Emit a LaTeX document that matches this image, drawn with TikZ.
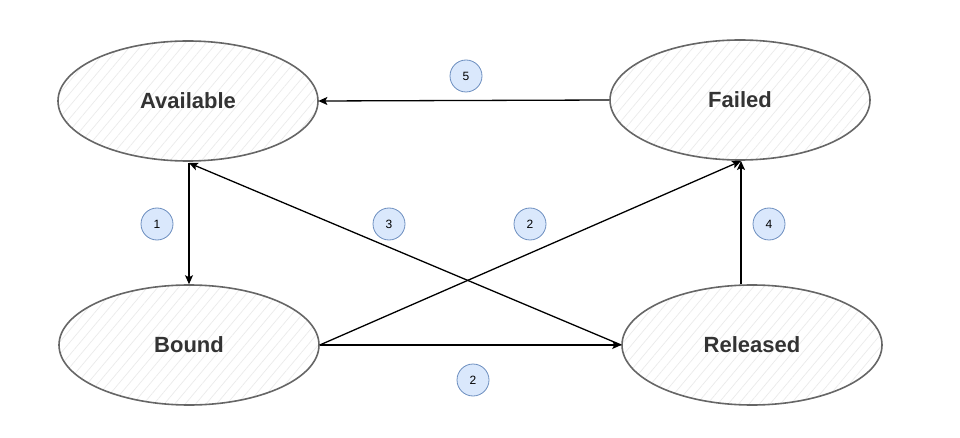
\documentclass[tikz,border=0pt]{standalone}
\usepackage{fontspec}
\setmainfont{Liberation Sans}
\usetikzlibrary{shapes.geometric,arrows.meta,patterns.meta}
\definecolor{strokegray}{HTML}{666666}
\definecolor{txtgray}{HTML}{333333}
\definecolor{lblfill}{HTML}{DAE8FC}
\definecolor{lblstroke}{HTML}{6C8EBF}
\tikzset{
  state/.style={ellipse, draw=strokegray, line width=1.6pt, minimum width=260pt, minimum height=120pt,
    preaction={fill=white}, pattern={Lines[angle=50,distance=8pt,line width=0.7pt]}, pattern color=black!8,
    font=\bfseries\fontsize{22}{24}\selectfont, text=txtgray},
  numlbl/.style={circle, draw=lblstroke, fill=lblfill, line width=0.8pt, minimum size=32pt, inner sep=0pt,
    font=\fontsize{12}{13}\selectfont},
  conn/.style={draw=black, line width=1.3pt, -{Stealth[length=9pt,width=8pt,inset=2pt]}}
}
\begin{document}
\begin{tikzpicture}[x=1pt,y=-1pt]
\useasboundingbox (0,0) rectangle (960,438);
\node[state] (av) at (188,101) {Available};
\node[state] (fa) at (740,100) {Failed};
\node[state] (bo) at (189,345) {Bound};
\node[state] (re) at (752,345) {Released};
\coordinate (avb) at (189,163);
\coordinate (fab) at (741,161);
\draw[conn] (fa.west) -- (av.east);
\draw[conn] (avb) -- (bo.north -| avb);
\draw[conn] (re.west) -- (avb);
\draw[conn] (bo.east) -- (fab);
\draw[conn] (bo.east) -- (re.west);
\draw[conn] (re.north -| fab) -- (fab);
\node[numlbl] (l5) at (466,76) {5};
\node[numlbl] (l1) at (157,224) {1};
\node[numlbl] (l3) at (389,224) {3};
\node[numlbl] (l2a) at (530,224) {2};
\node[numlbl] (l4) at (769,224) {4};
\node[numlbl] (l2b) at (473,380) {2};
\end{tikzpicture}
\end{document}
